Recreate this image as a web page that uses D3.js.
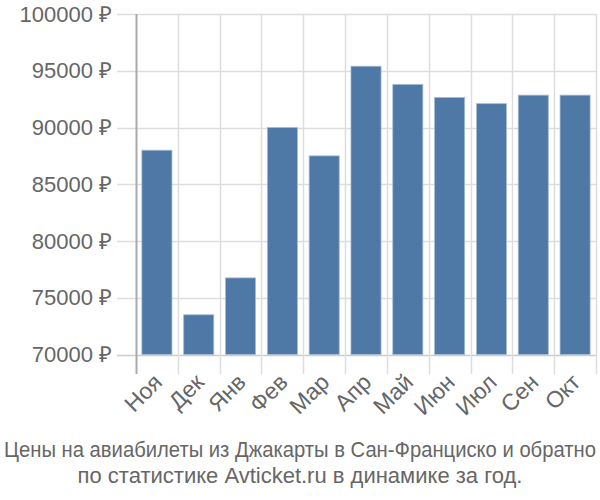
<!DOCTYPE html>
<html><head><meta charset="utf-8">
<script src="https://cdn.jsdelivr.net/npm/d3@7"></script>
<style>body{margin:0;background:#fff}svg{display:block}text{font-family:"Liberation Sans",Arial,sans-serif}</style>
</head><body>
<svg id="c" width="600" height="500"></svg>
<script>
const months = ["Ноя","Дек","Янв","Фев","Мар","Апр","Май","Июн","Июл","Сен","Окт"];
const prices = [88000,73500,76750,90000,87500,95400,93800,92650,92100,92850,92850];
const yTicks = [70000,75000,80000,85000,90000,95000,100000];
const titleLines = ["Цены на авиабилеты из Джакарты в Сан-Франциско и обратно","по статистике Avticket.ru в динамике за год."];

const svg = d3.select("#c");
const L = 136, R = 596, T = 14, B = 354.5;
const x = d3.scaleBand().domain(months).range([L, R]).paddingInner(0.28).paddingOuter(0.14);
const y = d3.scaleLinear().domain([70000, 100000]).range([B, T]);
const step = x.step();

// horizontal grid
svg.append("g").selectAll("line").data(yTicks).join("line")
  .attr("x1", 117).attr("x2", R).attr("y1", d => Math.round(y(d)) + 0.5).attr("y2", d => Math.round(y(d)) + 0.5)
  .attr("stroke", d => d === 70000 ? "#ccc" : "#ddd").attr("stroke-width", 1.5);
// vertical grid
const vx = d3.range(months.length + 1).map(i => L + i * step);
svg.append("g").selectAll("line").data(vx).join("line")
  .attr("x1", d => Math.round(d) + 0.5).attr("x2", d => Math.round(d) + 0.5)
  .attr("y1", T).attr("y2", 374)
  .attr("stroke", (d, i) => i === 0 ? "#aaa" : "#ddd").attr("stroke-width", (d, i) => i === 0 ? 2 : 1.5);

// y labels
svg.append("g").selectAll("text").data(yTicks).join("text")
  .attr("x", 112).attr("y", d => y(d)).attr("dy", "0.35em").attr("text-anchor", "end")
  .attr("fill", "#666").attr("font-size", 22).text(d => d + " ₽");

// bars
svg.append("g").selectAll("rect").data(prices).join("rect")
  .attr("x", (d, i) => x(months[i])).attr("width", x.bandwidth())
  .attr("y", d => y(d)).attr("height", d => B - y(d))
  .attr("fill", "#4e78a6").attr("stroke", "#a9bdd4").attr("stroke-width", 0.8);

// x labels
svg.append("g").selectAll("text").data(months).join("text")
  .attr("transform", d => `translate(${x(d) + x.bandwidth() / 2 + 1},${378}) rotate(-45)`)
  .attr("text-anchor", "end").attr("dy", "0.35em")
  .attr("fill", "#666").attr("font-size", 23).text(d => d);

// title
svg.append("g").selectAll("text").data(titleLines).join("text")
  .attr("text-anchor", "middle").attr("fill", "#666").attr("font-size", 22).text(d => d)
  .attr("transform", function(d, i) {
    const w = this.getComputedTextLength();
    const sx = i === 0 ? Math.min(1, 592 / w) : 1;
    return `translate(300,${456.5 + i * 26.5}) scale(${sx},1)`;
  });
</script>
</body></html>
